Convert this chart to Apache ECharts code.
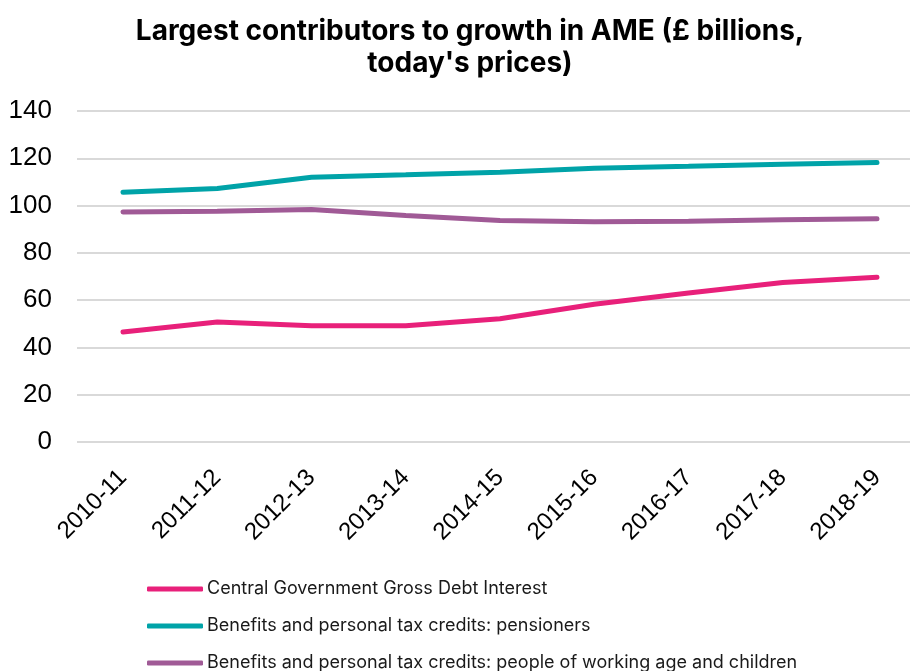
<!DOCTYPE html>
<html>
<head>
<meta charset="utf-8">
<script src="https://cdn.jsdelivr.net/npm/echarts@6/dist/echarts.min.js"></script>
<style>
  html, body { margin: 0; padding: 0; background: #fff; }
  #chart { width: 910px; height: 671px; }
</style>
</head>
<body>
<div id="chart"></div>
<script>
// 年份类别
const years = ['2010-11', '2011-12', '2012-13', '2013-14', '2014-15', '2015-16', '2016-17', '2017-18', '2018-19']
const debtInterest = [46.5, 50.8, 49.2, 49.2, 52.1, 58.3, 63.0, 67.5, 69.7]
const pensioners = [105.6, 107.2, 112.0, 113.0, 114.1, 115.8, 116.6, 117.5, 118.2]
const workingAge = [97.3, 97.6, 98.3, 95.8, 93.7, 93.2, 93.4, 94.0, 94.4]
const seriesNames = [
  'Central Government Gross Debt Interest',
  'Benefits and personal tax credits: pensioners',
  'Benefits and personal tax credits: people of working age and children'
]
const seriesColors = ['#e8207a', '#00a3a8', '#a05a96']

const chart = echarts.init(document.getElementById('chart'))

const lineSeries = (idx, data) => ({
  name: seriesNames[idx],
  type: 'line',
  xAxisIndex: 1,
  yAxisIndex: 1,
  data: data,
  symbol: 'none',
  lineStyle: { color: seriesColors[idx], width: 5, cap: 'round' },
  itemStyle: { color: seriesColors[idx] }
})

// 每个图例单独一行
const legends = seriesNames.map((name, i) => ({
  left: 147,
  top: 580 + i * 37,
  padding: 0,
  itemWidth: 56,
  itemHeight: 5,
  icon: 'roundRect',
  textStyle: { fontFamily: 'Inter', fontSize: 18, color: '#1a1a1a', padding: [0, 0, 0, -1] },
  data: [name]
}))

const option = {
  animation: false,
  title: {
    text: "Largest contributors to growth in AME (£ billions,\ntoday's prices)",
    left: 465,
    textAlign: 'center',
    top: 11,
    textStyle: {
      fontFamily: 'Inter',
      fontSize: 28,
      fontWeight: 'bold',
      color: '#000',
      lineHeight: 32
    }
  },
  grid: [
    // 背景网格线
    { left: 77, right: 0, top: 111, height: 331 },
    // 数据区域
    { left: 123, right: 33, top: 111, height: 331 }
  ],
  legend: legends,
  xAxis: [
    { type: 'category', gridIndex: 0, data: years, show: false },
    {
      type: 'category',
      gridIndex: 1,
      data: years,
      boundaryGap: false,
      axisLine: { show: false },
      axisTick: { show: false },
      splitLine: { show: false },
      axisLabel: {
        rotate: 45,
        margin: 32,
        interval: 0,
        fontFamily: 'Liberation Sans',
        fontSize: 24,
        color: '#000'
      }
    }
  ],
  yAxis: [
    {
      type: 'value',
      gridIndex: 0,
      min: 0,
      max: 140,
      interval: 20,
      axisLine: { show: false },
      axisTick: { show: false },
      splitLine: { lineStyle: { color: '#d9d9d9', width: 2 } },
      axisLabel: {
        margin: 25,
        fontFamily: 'Liberation Sans',
        fontSize: 26,
        color: '#000'
      }
    },
    {
      type: 'value',
      gridIndex: 1,
      min: 0,
      max: 140,
      interval: 20,
      show: false,
      splitLine: { show: false }
    }
  ],
  series: [
    lineSeries(0, debtInterest),
    lineSeries(1, pensioners),
    lineSeries(2, workingAge)
  ]
}

chart.setOption(option)
</script>
</body>
</html>
